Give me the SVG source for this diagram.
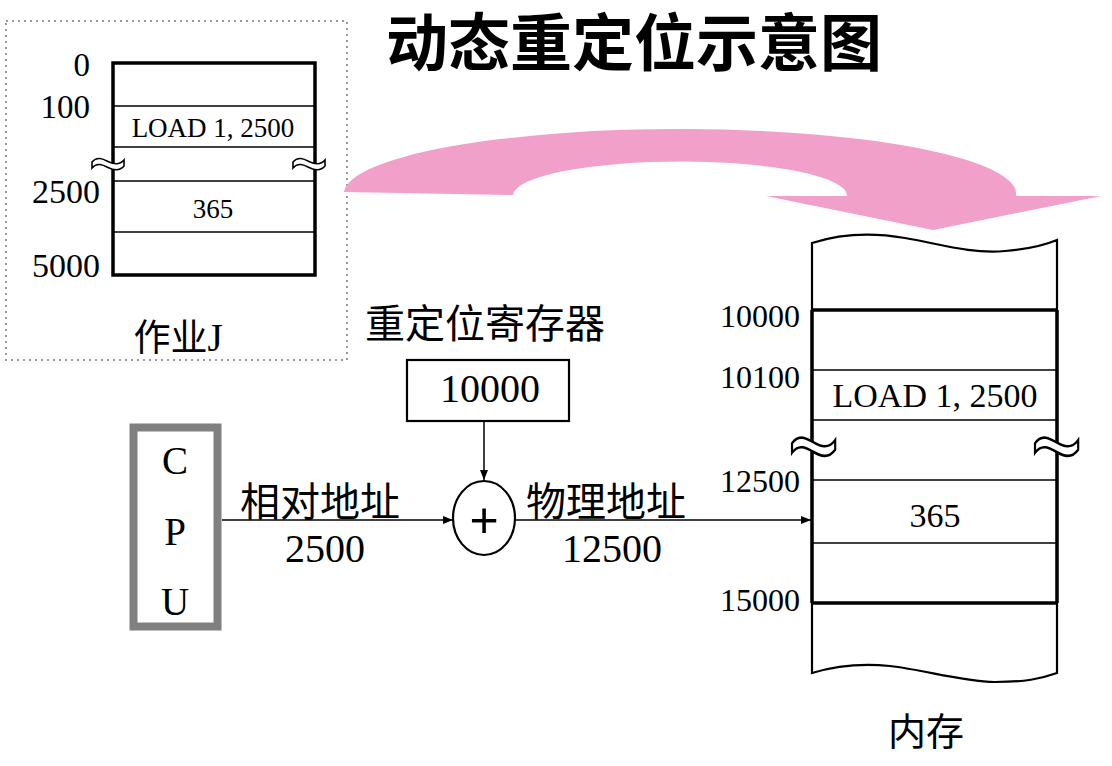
<svg xmlns="http://www.w3.org/2000/svg" width="1112" height="766" viewBox="0 0 1112 766">
<defs>
<style>
.serif{font-family:"Liberation Serif","Times New Roman",serif;fill:#000}
.cjk{font-family:"Noto Sans CJK SC","Liberation Serif",sans-serif;fill:#000}
.thin{stroke:#000;stroke-width:1.5;fill:none}
.mid{stroke:#000;stroke-width:2.2;fill:none}
.thick{stroke:#000;stroke-width:3.5;fill:none}
.brk{fill:#fff;stroke:#000;stroke-width:1.6}
</style>
<marker id="ah" viewBox="0 0 10 10" refX="10" refY="5" markerWidth="10" markerHeight="10" markerUnits="userSpaceOnUse" orient="auto">
<path d="M0,1 L10,5 L0,9 Z" fill="#000"/>
</marker>
<path id="tildeS" d="M0,2 C5,-4 11,-1 16,1.5 C21,4 27,6 32,0 L32,6 C27,12 21,10 16,7.5 C11,5 5,2 0,8 Z"/>
</defs>
<rect width="1112" height="766" fill="#fff"/>

<g id="title">
<text x="634" y="66" class="cjk" font-size="62" font-weight="bold" text-anchor="middle">动态重定位示意图</text>
</g>

<g id="job">
<rect x="6" y="21" width="341" height="339" fill="none" stroke="#999" stroke-width="2" stroke-dasharray="2,4"/>
<rect x="113" y="63" width="202" height="212" class="thick"/>
<line x1="113" y1="106" x2="315" y2="106" class="thin"/>
<line x1="113" y1="147" x2="315" y2="147" class="thin"/>
<line x1="113" y1="181" x2="315" y2="181" class="thin"/>
<line x1="113" y1="232" x2="315" y2="232" class="thin"/>
<use href="#tildeS" x="92" y="160" class="brk"/>
<use href="#tildeS" x="293" y="160" class="brk"/>
<text x="90" y="76" class="serif" font-size="33" text-anchor="end">0</text>
<text x="90" y="118" class="serif" font-size="33" text-anchor="end">100</text>
<text x="100" y="203" class="serif" font-size="34" text-anchor="end">2500</text>
<text x="100" y="277" class="serif" font-size="34" text-anchor="end">5000</text>
<text x="213" y="137" class="serif" font-size="27" text-anchor="middle">LOAD 1, 2500</text>
<text x="213" y="218" class="serif" font-size="27" text-anchor="middle">365</text>
<text x="178" y="351" class="cjk" font-size="37" text-anchor="middle">作业<tspan class="serif" font-size="39">J</tspan></text>
</g>

<g id="transfer-arrow">
<path d="M344,192 A336,65 0 0 1 1016,196 L1101,196 L933,230 L766,196 L847,196 A167,34 0 0 0 513,195 Z" fill="#F1A0CA"/>
</g>

<g id="memory">
<path d="M812,243 C840,234 870,232 905,238 C940,244 970,254 1005,251 C1030,249 1045,245 1057,240 L1057,673 C1040,679 1025,682 995,682 C960,681 925,670 890,666 C860,663 835,666 812,673 Z" class="mid" fill="#fff"/>
<line x1="812" y1="310" x2="812" y2="603" class="thick"/>
<line x1="1057" y1="310" x2="1057" y2="603" class="thick"/>
<line x1="812" y1="310" x2="1057" y2="310" class="thick"/>
<line x1="812" y1="603" x2="1057" y2="603" class="thick"/>
<line x1="812" y1="370" x2="1057" y2="370" class="thin"/>
<line x1="812" y1="420" x2="1057" y2="420" class="thin"/>
<line x1="812" y1="480" x2="1057" y2="480" class="thin"/>
<line x1="812" y1="543" x2="1057" y2="543" class="thin"/>
<use href="#tildeS" transform="translate(792,440) scale(1.35,1.6)" class="brk" stroke-width="1.1"/>
<use href="#tildeS" transform="translate(1035,440) scale(1.35,1.6)" class="brk" stroke-width="1.1"/>
<text x="800" y="327" class="serif" font-size="32" text-anchor="end">10000</text>
<text x="800" y="388" class="serif" font-size="32" text-anchor="end">10100</text>
<text x="800" y="492" class="serif" font-size="32" text-anchor="end">12500</text>
<text x="800" y="611" class="serif" font-size="32" text-anchor="end">15000</text>
<text x="935" y="407" class="serif" font-size="34" text-anchor="middle">LOAD 1, 2500</text>
<text x="935" y="527" class="serif" font-size="34" text-anchor="middle">365</text>
<text x="926" y="745" class="cjk" font-size="38" text-anchor="middle">内存</text>
</g>

<g id="register">
<text x="485" y="338" class="cjk" font-size="40" text-anchor="middle">重定位寄存器</text>
<rect x="407" y="360" width="162" height="61" class="mid"/>
<text x="490" y="402" class="serif" font-size="40" text-anchor="middle">10000</text>
</g>

<g id="adder">
<ellipse cx="484" cy="518" rx="31" ry="37" class="mid" fill="#fff"/>
<text x="484" y="537" font-family="Liberation Sans, Arial, sans-serif" font-size="50" text-anchor="middle" fill="#000">+</text>
</g>

<g id="cpu">
<rect x="133.5" y="427.5" width="84" height="199" fill="none" stroke="#808080" stroke-width="8"/>
<text x="175" y="474" class="serif" font-size="39" text-anchor="middle">C</text>
<text x="175" y="545" class="serif" font-size="39" text-anchor="middle">P</text>
<text x="175" y="615" class="serif" font-size="39" text-anchor="middle">U</text>
</g>

<g id="connectors">
<line x1="484" y1="422" x2="484" y2="480" class="thin" marker-end="url(#ah)"/>
<line x1="222" y1="520" x2="453" y2="520" class="thin" marker-end="url(#ah)"/>
<line x1="515" y1="520" x2="811" y2="520" class="thin" marker-end="url(#ah)"/>
<text x="320" y="516" class="cjk" font-size="40" text-anchor="middle">相对地址</text>
<text x="325" y="562" class="serif" font-size="40" text-anchor="middle">2500</text>
<text x="606" y="516" class="cjk" font-size="40" text-anchor="middle">物理地址</text>
<text x="612" y="562" class="serif" font-size="40" text-anchor="middle">12500</text>
</g>
</svg>
